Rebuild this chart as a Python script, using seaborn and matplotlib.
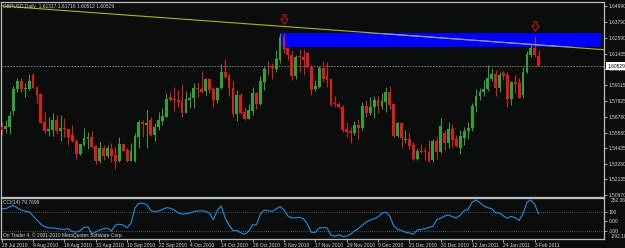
import matplotlib
matplotlib.use("Agg")
import matplotlib.pyplot as plt
import matplotlib.transforms as mtransforms
from matplotlib.path import Path
from matplotlib.patches import Rectangle
import numpy as np
import pandas as pd
import seaborn as sns

# ---------------- data ----------------
opens = [1.5603, 1.5586, 1.5603, 1.5722, 1.5881, 1.5945, 1.5881, 1.5885, 1.5987, 1.5896,
         1.5846, 1.5638, 1.5571, 1.5581, 1.5653, 1.5574, 1.5594, 1.5586, 1.5540, 1.5500,
         1.5403, 1.5470, 1.5514, 1.5529, 1.5460, 1.5347, 1.5445, 1.5386, 1.5440, 1.5393,
         1.5349, 1.5473, 1.5431, 1.5351, 1.5351, 1.5529, 1.5636, 1.5618, 1.5653, 1.5542,
         1.5603, 1.5648, 1.5678, 1.5822, 1.5809, 1.5802, 1.5796, 1.5707, 1.5802, 1.5819,
         1.5891, 1.5881, 1.5868, 1.5955, 1.5883, 1.5802, 1.5888, 1.6009, 1.5980, 1.5891,
         1.5698, 1.5841, 1.5715, 1.5661, 1.5720, 1.5851, 1.5770, 1.5935, 1.6056, 1.6044,
         1.6029, 1.6098, 1.6267, 1.6185, 1.6135, 1.5980, 1.6130, 1.6123, 1.6148, 1.6049,
         1.5881, 1.5900, 1.6037, 1.5980, 1.5955, 1.5777, 1.5770, 1.5747, 1.5586, 1.5574,
         1.5559, 1.5616, 1.5594, 1.5757, 1.5703, 1.5752, 1.5802, 1.5759, 1.5789, 1.5859,
         1.5770, 1.5534, 1.5633, 1.5503, 1.5510, 1.5468, 1.5366, 1.5425, 1.5425, 1.5416,
         1.5356, 1.5500, 1.5416, 1.5559, 1.5485, 1.5586, 1.5512, 1.5445, 1.5522, 1.5569,
         1.5592, 1.5757, 1.5831, 1.5861, 1.5881, 1.5960, 1.5994, 1.5893, 1.6004, 1.5987,
         1.5809, 1.5935, 1.5925, 1.5839, 1.6012, 1.6135, 1.6190, 1.61317]
highs = [1.5641, 1.5653, 1.5722, 1.5905, 1.5963, 1.5963, 1.5930, 1.5994, 1.6000, 1.5900,
         1.5851, 1.5715, 1.5678, 1.5703, 1.5690, 1.5688, 1.5670, 1.5589, 1.5618, 1.5510,
         1.5477, 1.5592, 1.5566, 1.5574, 1.5465, 1.5490, 1.5465, 1.5468, 1.5485, 1.5450,
         1.5525, 1.5480, 1.5448, 1.5480, 1.5559, 1.5651, 1.5653, 1.5727, 1.5678, 1.5633,
         1.5715, 1.5740, 1.5851, 1.5863, 1.5896, 1.5874, 1.5920, 1.5868, 1.5863, 1.5930,
         1.5937, 1.6017, 1.5967, 1.5963, 1.5900, 1.5896, 1.6069, 1.6104, 1.6000, 1.5945,
         1.5876, 1.5851, 1.5752, 1.5772, 1.5896, 1.5863, 1.5980, 1.6049, 1.6091, 1.6078,
         1.6173, 1.6301, 1.6296, 1.6197, 1.6173, 1.6135, 1.6178, 1.6178, 1.6155, 1.6061,
         1.5950, 1.6054, 1.6093, 1.6086, 1.5963, 1.5831, 1.5789, 1.5764, 1.5641, 1.5603,
         1.5646, 1.5658, 1.5784, 1.5802, 1.5822, 1.5833, 1.5831, 1.5856, 1.5896, 1.5905,
         1.5777, 1.5641, 1.5641, 1.5579, 1.5566, 1.5492, 1.5443, 1.5475, 1.5450, 1.5505,
         1.5514, 1.5529, 1.5666, 1.5579, 1.5641, 1.5623, 1.5542, 1.5579, 1.5603, 1.5641,
         1.5777, 1.5881, 1.5888, 1.5950, 1.6059, 1.6037, 1.6024, 1.6012, 1.6019, 1.6012,
         1.5945, 1.5987, 1.5963, 1.6049, 1.6167, 1.6227, 1.6276, 1.61716]
lows = [1.5542, 1.5554, 1.5549, 1.5690, 1.5863, 1.5859, 1.5822, 1.5876, 1.5888, 1.5780,
        1.5629, 1.5559, 1.5534, 1.5534, 1.5549, 1.5497, 1.5525, 1.5465, 1.5490, 1.5366,
        1.5391, 1.5460, 1.5440, 1.5448, 1.5329, 1.5334, 1.5356, 1.5369, 1.5344, 1.5292,
        1.5342, 1.5421, 1.5344, 1.5347, 1.5344, 1.5448, 1.5529, 1.5443, 1.5534, 1.5500,
        1.5579, 1.5614, 1.5673, 1.5796, 1.5718, 1.5752, 1.5673, 1.5703, 1.5744, 1.5744,
        1.5826, 1.5851, 1.5841, 1.5851, 1.5752, 1.5777, 1.5881, 1.5963, 1.5831, 1.5678,
        1.5648, 1.5698, 1.5653, 1.5658, 1.5690, 1.5733, 1.5762, 1.5876, 1.5987, 1.5957,
        1.6012, 1.6078, 1.6148, 1.6098, 1.5950, 1.5955, 1.6009, 1.5987, 1.6037, 1.5839,
        1.5870, 1.5888, 1.5937, 1.5900, 1.5759, 1.5752, 1.5740, 1.5566, 1.5529, 1.5485,
        1.5542, 1.5510, 1.5579, 1.5678, 1.5690, 1.5666, 1.5703, 1.5733, 1.5715, 1.5733,
        1.5529, 1.5529, 1.5455, 1.5480, 1.5435, 1.5356, 1.5356, 1.5408, 1.5356, 1.5342,
        1.5344, 1.5366, 1.5411, 1.5431, 1.5443, 1.5450, 1.5450, 1.5403, 1.5468, 1.5510,
        1.5574, 1.5715, 1.5802, 1.5831, 1.5870, 1.5945, 1.5831, 1.5863, 1.5950, 1.5752,
        1.5764, 1.5856, 1.5814, 1.5814, 1.6000, 1.6123, 1.6123, 1.60512]
closes = [1.5579, 1.5611, 1.5683, 1.5883, 1.5945, 1.5883, 1.5888, 1.5940, 1.5893, 1.5841,
          1.5633, 1.5569, 1.5586, 1.5653, 1.5574, 1.5594, 1.5586, 1.5525, 1.5495, 1.5403,
          1.5473, 1.5520, 1.5529, 1.5453, 1.5347, 1.5445, 1.5386, 1.5445, 1.5384, 1.5349,
          1.5475, 1.5425, 1.5349, 1.5425, 1.5534, 1.5638, 1.5621, 1.5633, 1.5542, 1.5603,
          1.5653, 1.5683, 1.5809, 1.5802, 1.5802, 1.5789, 1.5707, 1.5807, 1.5819, 1.5888,
          1.5881, 1.5863, 1.5957, 1.5876, 1.5802, 1.5891, 1.6009, 1.5974, 1.5891, 1.5700,
          1.5839, 1.5703, 1.5661, 1.5727, 1.5851, 1.5772, 1.5942, 1.6034, 1.6044, 1.6037,
          1.6104, 1.6271, 1.6173, 1.6135, 1.5980, 1.6123, 1.6121, 1.6098, 1.6049, 1.5876,
          1.5905, 1.6037, 1.5957, 1.5950, 1.5764, 1.5770, 1.5752, 1.5579, 1.5566, 1.5554,
          1.5616, 1.5592, 1.5759, 1.5707, 1.5752, 1.5802, 1.5759, 1.5794, 1.5859, 1.5764,
          1.5534, 1.5629, 1.5517, 1.5512, 1.5460, 1.5366, 1.5423, 1.5413, 1.5413, 1.5351,
          1.5495, 1.5416, 1.5609, 1.5480, 1.5584, 1.5505, 1.5460, 1.5534, 1.5571, 1.5592,
          1.5759, 1.5831, 1.5861, 1.5883, 1.5963, 1.5994, 1.5893, 1.5987, 1.5982, 1.5809,
          1.5935, 1.5920, 1.5819, 1.6012, 1.6143, 1.6190, 1.6132, 1.60529]
cci_values = [140, 138, 160, 172, 150, 125, 112, 105, 60, 15,
              -30, -58, -70, -71, -75, -85, -87, -80, -110, -118,
              -100, -66, -60, -136, -115, -92, -80, -72, -105, -40,
              -30, -40, -70, -20, 150, 199, 198, 185, 120, 105,
              115, 130, 150, 145, 125, 95, 80, 85, 92, 108,
              115, 116, 112, 90, 20, 120, 170, 40, -40, -100,
              -100, -125, -140, -108, -40, -35, 80, 125, 115, 112,
              135, 163, 128, 60, 38, 40, 44, 30, -30, -120,
              -120, -70, -68, -71, -150, -162, -145, -165, -160, -140,
              -105, -78, -40, -5, 15, 30, 50, 90, 102, 60,
              -50, -85, -100, -118, -125, -140, -95, -85, -80, -64,
              -55, 20, 37, 60, 70, 52, 37, 70, 120, 130,
              210, 235, 205, 170, 150, 140, 95, 91, 60, 35,
              55, 40, 10, 85, 210, 235, 185, 79.77]

date_labels = ["28 Jul 2010", "9 Aug 2010", "19 Aug 2010", "31 Aug 2010", "10 Sep 2010",
               "22 Sep 2010", "4 Oct 2010", "14 Oct 2010", "26 Oct 2010", "5 Nov 2010",
               "17 Nov 2010", "29 Nov 2010", "9 Dec 2010", "21 Dec 2010", "31 Dec 2010",
               "12 Jan 2011", "24 Jan 2011", "3 Feb 2011"]
date_label_bars = [0, 8, 16, 24, 32, 40, 48, 56, 64, 72, 80, 88, 96, 104, 112, 120, 128, 136]
price_tick_labels = ["1.64990", "1.63790", "1.62590", "1.61435", "1.60315", "1.59115", "1.57925",
                     "1.56780", "1.55580", "1.54435", "1.53280", "1.52135", "1.50970"]
cci_ticks = [100, 0, -100]
cci_tick_labels = ["100", "0.00", "-100"]
cci_max_label = "252.360"
cci_min_label = "-292.183"
cci_levels = [100, -100]

title_text = "GBPUSD,Daily  1.61317 1.61716 1.60512 1.60529"
cci_text = "CCI(14) 79.7699"
copyright_text = "On Trader 4, \u00a9 2001-2010 MetaQuotes Software Corp."
last_price = 1.60529
last_price_label = "1.60529"

trend_bars = [0, 137]
trend_prices = [1.6499, 1.6210]
zone_bars = [71, 153]
zone_prices = [1.6195, 1.6299]
arrow_bars = [72, 136]
arrow_prices = [1.6406, 1.6354]

# ---------------- style ----------------
BG = "#0b0c0c"
FG = "#d4d4d4"
SPINE = "#bdbdbd"
BULL = "#2fa22f"
BEAR = "#de1b1b"

sns.set_style("dark", rc={"axes.facecolor": BG, "figure.facecolor": BG})
plt.rcParams["font.family"] = ["Liberation Sans", "DejaVu Sans"]
FS = 3.5

df = pd.DataFrame({"bar": np.arange(len(opens)), "open": opens, "high": highs,
                   "low": lows, "close": closes, "cci": cci_values})

fig = plt.figure(figsize=(6.25, 2.48), dpi=100, facecolor=BG)
W, H = 625.0, 248.0
ax = fig.add_axes([1 / W, 1 - 196.5 / H, 603 / W, 195 / H])
axc = fig.add_axes([1 / W, 1 - 239 / H, 603 / W, 41.5 / H])

xlim = (-0.18, 153.65)
for a in (ax, axc):
    a.set_facecolor(BG)
    a.set_xlim(*xlim)
    for s in a.spines.values():
        s.set_color(SPINE)
        s.set_linewidth(0.9)
    a.grid(False)

# ---------------- candles ----------------
up = df["close"] >= df["open"]
colors = np.where(up, BULL, BEAR)
ax.vlines(df["bar"], df["low"], df["high"], colors=colors, linewidth=0.75, zorder=3)
body_bottom = np.minimum(df["open"], df["close"])
body_h = np.maximum(np.abs(df["close"] - df["open"]), 0.00012)
ax.bar(df["bar"], body_h, bottom=body_bottom, width=0.72, color=colors,
       linewidth=0, zorder=4)

ax.set_ylim(1.50858, 1.65324)

# zone rectangle
rect = Rectangle((zone_bars[0], zone_prices[0]), zone_bars[1] - zone_bars[0],
                 zone_prices[1] - zone_prices[0], facecolor="#0000ff", edgecolor="none",
                 zorder=2)
ax.add_patch(rect)

# trend line (ray) and its part over the rectangle
ax.axline((trend_bars[0], trend_prices[0]), (trend_bars[1], trend_prices[1]),
          color="#b2b21a", linewidth=0.8, zorder=5)
l2 = ax.axline((trend_bars[0], trend_prices[0]), (trend_bars[1], trend_prices[1]),
               color="#8c8cc8", linewidth=0.8, zorder=5)
l2.set_clip_path(rect)

# current price line
ax.axhline(last_price, color="#8a8a8a", linewidth=0.6, linestyle=(0, (2, 1.5)), zorder=1)

# arrows
verts = [(-0.3, 1), (0.3, 1), (0.3, 0.15), (0.75, 0.15), (0, -1), (-0.75, 0.15),
         (-0.3, 0.15), (-0.3, 1)]
codes = [Path.MOVETO] + [Path.LINETO] * 6 + [Path.CLOSEPOLY]
arrow_path = Path(verts, codes)
ax.plot(arrow_bars, arrow_prices, linestyle="none", marker=arrow_path, markersize=7,
        markerfacecolor="none", markeredgecolor="#b01414", markeredgewidth=0.8, zorder=6)

# axis ticks / labels main
ax.set_xticks([])
ax.yaxis.tick_right()
ax.set_yticks([float(t) for t in price_tick_labels])
ax.set_yticklabels(price_tick_labels)
ax.tick_params(axis="y", colors=SPINE, labelcolor=FG, labelsize=FS, length=2,
               width=0.6, pad=1.5, direction="out", right=True, left=False)
ax.text(0.003, 0.988, title_text, transform=ax.transAxes, ha="left", va="top",
        fontsize=FS, color=FG, zorder=7)
btr = mtransforms.blended_transform_factory(ax.transAxes, ax.transData)
ax.text(1.006, last_price, last_price_label, transform=btr, ha="left", va="center",
        fontsize=FS, color="black", zorder=10, clip_on=False,
        bbox=dict(boxstyle="square,pad=0.25", facecolor="white", edgecolor="none"))

# ---------------- CCI ----------------
sns.lineplot(data=df, x="bar", y="cci", ax=axc, color="#1e8fe0", linewidth=0.8,
             legend=False)
for lv in cci_levels:
    axc.axhline(lv, color="#8a8a8a", linewidth=0.5, linestyle=(0, (1, 2)), zorder=1)
axc.set_ylim(-192, 262)
axc.set_xlabel("")
axc.set_ylabel("")
axc.yaxis.tick_right()
axc.set_yticks(cci_ticks)
axc.set_yticklabels(cci_tick_labels)
axc.tick_params(axis="y", colors=SPINE, labelcolor=FG, labelsize=FS, length=2,
                width=0.6, pad=1.5, direction="out", right=True, left=False)
axc.set_xticks(date_label_bars)
axc.set_xticklabels(date_labels, ha="left")
axc.tick_params(axis="x", colors=SPINE, labelcolor=FG, labelsize=FS, length=2,
                width=0.6, pad=1.0, direction="out", bottom=True)
bc = mtransforms.blended_transform_factory(axc.transAxes, axc.transAxes)
axc.text(1.012, 0.92, cci_max_label, transform=bc, ha="left", va="center",
         fontsize=FS, color=FG, clip_on=False)
axc.text(1.012, 0.07, cci_min_label, transform=bc, ha="left", va="center",
         fontsize=FS, color=FG, clip_on=False)
axc.text(0.004, 0.89, cci_text, transform=axc.transAxes, ha="left", va="center",
         fontsize=FS, color=FG)
axc.text(0.004, 0.08, copyright_text, transform=axc.transAxes, ha="left", va="center",
         fontsize=FS, color=FG)

fig.savefig("out.png", dpi=100, facecolor=BG)
